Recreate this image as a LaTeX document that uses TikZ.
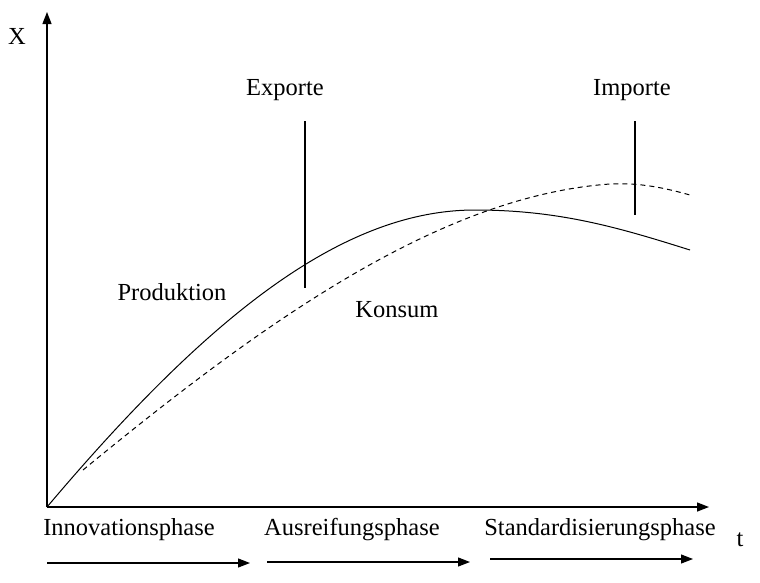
\documentclass[tikz,border=0pt]{standalone}
\usepackage{fontspec}
\setmainfont{Liberation Serif}
\usetikzlibrary{arrows.meta}
\begin{document}
\begin{tikzpicture}[x=1pt,y=-1pt,
  lbl/.style={font=\fontsize{24.5}{28}\selectfont, inner sep=0pt},
  axis/.style={line width=1.3pt, -{Triangle[length=12pt,width=9pt]}},
  phase/.style={line width=1.1pt, -{Triangle[length=12pt,width=9pt]}},
  curve/.style={line width=1pt},
  mark line/.style={line width=2pt}]
\useasboundingbox (0,0) rectangle (760,582);
\coordinate (O) at (47,507);
\coordinate (ytop) at (47,12);
\coordinate (xend) at (709,507);
\draw[axis] (O) -- (ytop);
\draw[axis] (O) -- (xend);
\node[lbl] (X) at (17,36) {X};
\node[lbl] (t) at (740,540) {t};
% curves
\coordinate (ppeak) at (475,210);
\coordinate (pend) at (690,250);
\coordinate (kstart) at (83,470);
\coordinate (kpeak) at (610,184);
\coordinate (kend) at (690,195);
\draw[curve] (O) .. controls (205,320) and (340,210) .. (ppeak)
  .. controls (560,210) and (620,228) .. (pend);
\draw[curve, dash pattern=on 5pt off 4pt] (kstart) .. controls (263,322) and (440,196) .. (kpeak)
  .. controls (640,182.5) and (665,188) .. (kend);
% markers
\coordinate (e1) at (305,121);
\coordinate (e2) at (305,288);
\coordinate (i1) at (635,121);
\coordinate (i2) at (635,215);
\draw[mark line] (e1) -- (e2);
\draw[mark line] (i1) -- (i2);
\node[lbl] (exp) at (285,90) {Exporte};
\node[lbl] (imp) at (632,90) {Importe};
\node[lbl] (prod) at (172,292) {Produktion};
\node[lbl] (kons) at (397,310) {Konsum};
% phases
\node[lbl] (p1) at (129,530) {Innovationsphase};
\node[lbl] (p2) at (352,530) {Ausreifungsphase};
\node[lbl] (p3) at (600,530) {Standardisierungsphase};
\coordinate (a1s) at (47,563); \coordinate (a1e) at (250,563);
\coordinate (a2s) at (267,562); \coordinate (a2e) at (470,562);
\coordinate (a3s) at (490,559); \coordinate (a3e) at (693,559);
\draw[phase] (a1s) -- (a1e);
\draw[phase] (a2s) -- (a2e);
\draw[phase] (a3s) -- (a3e);
\end{tikzpicture}
\end{document}
